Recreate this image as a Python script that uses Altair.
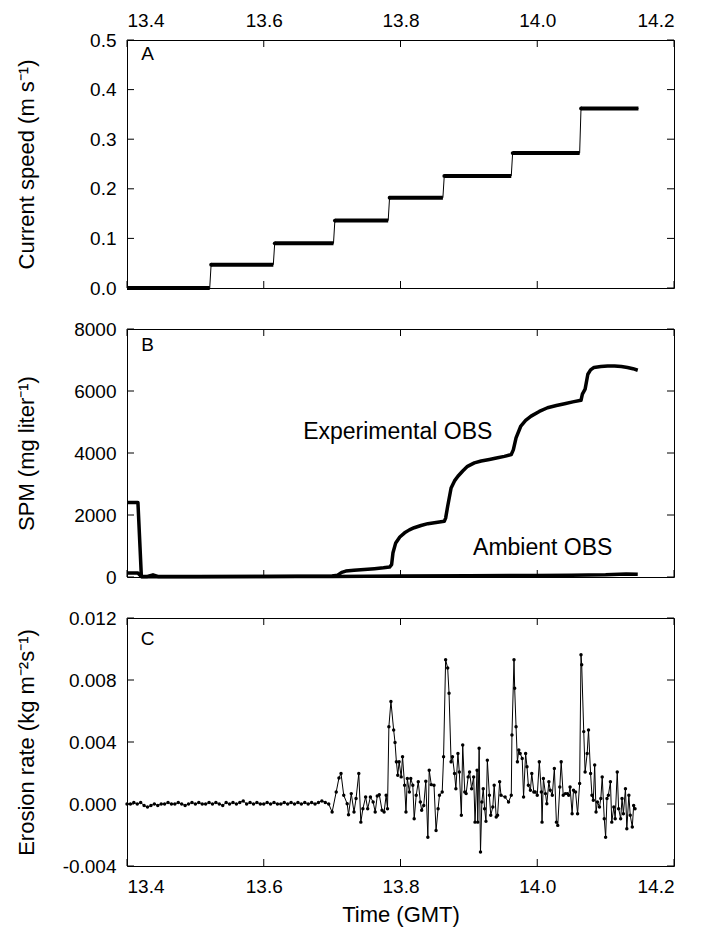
import altair as alt
import pandas as pd

FONT = "Liberation Sans"
W, H = 547, 248
TL = 7  # inward tick length

# ---------------- shared axis ticks ----------------
x_ticks = [13.4, 13.6, 13.8, 14.0, 14.2]
a_ticks = [0.0, 0.1, 0.2, 0.3, 0.4, 0.5]
b_ticks = [0, 2000, 4000, 6000, 8000]
c_ticks = [-0.004, 0.0, 0.004, 0.008, 0.012]

# ---------------- Panel A: current speed (steps) ----------------
speed_levels = [0.0, 0.047, 0.090, 0.136, 0.182, 0.226, 0.272, 0.362]
step_start = [13.400, 13.523, 13.616, 13.704, 13.784, 13.864, 13.964, 14.064]
step_end = [13.521, 13.614, 13.702, 13.782, 13.862, 13.962, 14.062, 14.148]

# ---------------- Panel B: SPM ----------------
exp_t = [13.400, 13.416, 13.419, 13.421, 13.430, 13.438, 13.445, 13.500, 13.550,
         13.600, 13.650, 13.700, 13.708, 13.714, 13.720, 13.732, 13.747, 13.762,
         13.775, 13.784, 13.787, 13.789, 13.793, 13.799, 13.806, 13.813, 13.820,
         13.830, 13.840, 13.852, 13.864, 13.866, 13.869, 13.874, 13.879, 13.884,
         13.891, 13.898, 13.908, 13.918, 13.930, 13.942, 13.952, 13.962, 13.965,
         13.969, 13.976, 13.983, 13.991, 14.003, 14.015, 14.028, 14.040, 14.052,
         14.064, 14.066, 14.070, 14.074, 14.078, 14.083, 14.093, 14.103, 14.113,
         14.123, 14.132, 14.140, 14.147]
exp_v = [2400, 2400, 980, 20, 20, 70, 20, 15, 20,
         20, 25, 30, 60, 150, 190, 215, 245, 270,
         295, 320, 400, 780, 1100, 1290, 1425, 1520, 1590,
         1660, 1720, 1760, 1795, 1900, 2280, 2870, 3100, 3250,
         3420, 3570, 3680, 3740, 3790, 3845, 3890, 3950, 4100,
         4490, 4870, 5050, 5190, 5340, 5460, 5530, 5590, 5650,
         5700, 5900, 6060, 6540, 6680, 6760, 6790, 6810, 6810,
         6790, 6760, 6720, 6670]
amb_t = [13.400, 13.416, 13.421, 13.500, 13.600, 13.700, 13.800, 13.900,
         14.000, 14.050, 14.100, 14.130, 14.147]
amb_v = [130, 130, 10, 10, 15, 20, 30, 40, 50, 60, 75, 100, 90]

# ---------------- Panel C: erosion rate ----------------
ero_t = [13.400, 13.405, 13.410, 13.415, 13.420, 13.425, 13.430, 13.435, 13.440, 13.445,
         13.450, 13.455, 13.460, 13.465, 13.470, 13.475, 13.480, 13.485, 13.490, 13.495,
         13.500, 13.505, 13.510, 13.515, 13.520, 13.525, 13.530, 13.535, 13.540, 13.545,
         13.550, 13.555, 13.560, 13.565, 13.570, 13.575, 13.580, 13.585, 13.590, 13.595,
         13.600, 13.605, 13.610, 13.615, 13.620, 13.625, 13.630, 13.635, 13.640, 13.645,
         13.650, 13.655, 13.660, 13.665, 13.670, 13.675, 13.680, 13.685, 13.690, 13.695,
         13.700, 13.706, 13.710, 13.713, 13.717, 13.722, 13.724, 13.728, 13.732, 13.735,
         13.739, 13.742, 13.745, 13.749, 13.752, 13.756, 13.760, 13.763, 13.766, 13.769,
         13.773, 13.776, 13.779, 13.781, 13.783, 13.786, 13.790, 13.792, 13.794, 13.796,
         13.798, 13.801, 13.803, 13.806, 13.808, 13.810, 13.813, 13.815, 13.818, 13.820,
         13.823, 13.826, 13.829, 13.831, 13.834, 13.837, 13.840, 13.842, 13.845, 13.849,
         13.852, 13.855, 13.857, 13.861, 13.863, 13.866, 13.869, 13.871, 13.874, 13.876,
         13.879, 13.881, 13.884, 13.886, 13.889, 13.891, 13.894, 13.896, 13.899, 13.901,
         13.904, 13.907, 13.909, 13.912, 13.913, 13.915, 13.917, 13.919, 13.921, 13.923,
         13.925, 13.927, 13.930, 13.932, 13.935, 13.937, 13.940, 13.942, 13.945, 13.947,
         13.953, 13.958, 13.962, 13.963, 13.966, 13.967, 13.969, 13.971, 13.973, 13.975,
         13.978, 13.980, 13.983, 13.985, 13.987, 13.990, 13.992, 13.995, 13.997, 14.000,
         14.003, 14.006, 14.007, 14.009, 14.012, 14.014, 14.017, 14.019, 14.022, 14.025,
         14.028, 14.030, 14.033, 14.035, 14.038, 14.041, 14.044, 14.046, 14.048, 14.051,
         14.053, 14.056, 14.059, 14.062, 14.064, 14.065, 14.068, 14.070, 14.073, 14.075,
         14.078, 14.080, 14.082, 14.084, 14.086, 14.088, 14.091, 14.093, 14.095, 14.098,
         14.100, 14.102, 14.104, 14.107, 14.109, 14.112, 14.114, 14.117, 14.119, 14.122,
         14.124, 14.126, 14.129, 14.131, 14.134, 14.136, 14.139, 14.141, 14.143]
ero_v = [0.0000, 0.0000, 0.0001, 0.0000, 0.0001, -0.0001, -0.0002, -0.0001, 0.0000, -0.0001,
         0.0000, 0.0000, 0.0001, 0.0000, 0.0000, 0.0001, 0.0000, -0.0001, 0.0000, 0.0001,
         0.0000, 0.0001, 0.0000, 0.0000, 0.0001, 0.0000, 0.0001, 0.0000, -0.0001, 0.0001,
         0.0000, 0.0001, 0.0000, 0.0001, 0.0002, 0.0000, 0.0001, 0.0000, 0.0001, 0.0000,
         0.0000, 0.0001, 0.0000, 0.0001, 0.0000, 0.0000, 0.0001, 0.0000, 0.0001, 0.0000,
         0.0001, 0.0000, 0.0001, 0.0000, 0.0001, 0.0000, 0.0001, 0.0002, 0.0001, 0.0000,
         -0.00052, 0.00078, 0.00168, 0.00197, 0.00056, 0.00002, -0.00069, 0.00067, -0.00052, 0.00035,
         0.00197, -0.00117, -0.00030, 0.00045, -0.00030, 0.00045, 0.00013, -0.00052, 0.00052, 0.00060,
         -0.00041, -0.00052, 0.00056, -0.00030, 0.00499, 0.00661, 0.00477, 0.00397, 0.00272, 0.00186,
         0.00272, 0.00175, 0.00305, 0.00121, -0.00052, 0.00164, 0.00078, 0.00164, 0.00121, -0.00095,
         0.00056, 0.00143, 0.00013, -0.00041, -0.00009, 0.00147, -0.00214, 0.00218, 0.00125, 0.00121,
         -0.00171, -0.00030, 0.00056, 0.00078, 0.00305, 0.00931, 0.00877, 0.00715, 0.00272, 0.00305,
         0.00197, 0.00099, 0.00326, 0.00207, -0.00073, 0.00380, 0.00078, 0.00067, 0.00175, 0.00207,
         0.00099, 0.00175, -0.00117, 0.00218, -0.00117, 0.00359, -0.00310, 0.00013, 0.00099, -0.00030,
         -0.00112, 0.00283, 0.00056, -0.00073, -0.00019, 0.00121, -0.00084, -0.00073, 0.00143, 0.00056,
         0.00045, 0.00013, 0.00056, 0.00445, 0.00931, 0.00747, 0.00499, 0.00272, 0.00348, 0.00326,
         0.00294, 0.00045, 0.00326, 0.00240, 0.00121, 0.00089, 0.00197, 0.00078, 0.00078, 0.00056,
         0.00272, 0.00078, -0.00117, 0.00164, 0.00067, 0.00002, 0.00143, 0.00089, 0.00056, 0.00229,
         -0.00117, -0.00138, 0.00110, 0.00272, 0.00056, 0.00067, 0.00067, 0.00056, 0.00110, -0.00063,
         0.00089, 0.00078, -0.00063, 0.00132, 0.00963, 0.00899, 0.00467, 0.00207, 0.00326, 0.00477,
         0.00197, 0.00056, 0.00024, 0.00251, -0.00052, 0.00013, -0.00019, 0.00035, 0.00175, -0.00095,
         -0.00214, 0.00035, 0.00056, 0.00143, -0.00117, -0.00019, -0.00095, 0.00207, -0.00030, -0.00095,
         0.00035, -0.00063, 0.00099, -0.00160, 0.00056, -0.00073, -0.00149, -0.00009, -0.00030]

# annotations
panel_letters = ["A", "B", "C"]
letter_t = 13.43
letter_y = [0.472, 7480, 0.01064]
ann_labels = ["Experimental OBS", "Ambient OBS"]
ann_t = [13.796, 14.008]
ann_v = [4664, 939]

XS = alt.Scale(domain=[13.4, 14.2], nice=False, zero=False)


def yaxis(title, ticks, fmt):
    expr = ("datum.value < 0 ? '-' + format(-datum.value, '%s') : format(datum.value, '%s')"
            % (fmt, fmt))
    return alt.Axis(values=ticks, labelExpr=expr, ticks=False, domain=False, grid=False,
                    labelPadding=11, title=title, titleX=-101, titleY=H / 2,
                    titleAngle=270, titleBaseline="middle", titleAlign="center")


def xaxis(orient, title):
    if orient is None:
        return None
    if title is None:
        return alt.Axis(orient=orient, values=x_ticks, format=".1f", ticks=False, domain=False,
                        grid=False, labelPadding=10, title=None)
    return alt.Axis(orient=orient, values=x_ticks, format=".1f", ticks=False, domain=False,
                    grid=False, labelPadding=11, title=title, titlePadding=8)


def panel(ydomain, yticks, ytitle, yfmt, xorient, xtitle, letter_idx, layers_fn):
    ys = alt.Scale(domain=ydomain, nice=False, zero=False)
    xa = xaxis(xorient, xtitle)
    ya = yaxis(ytitle, yticks, yfmt)

    def X(field):
        return alt.X(field, scale=XS, axis=xa)

    def Y(field):
        return alt.Y(field, scale=ys, axis=ya)

    layers = layers_fn(X, Y)

    xs_df = pd.DataFrame({"t": x_ticks})
    ys_df = pd.DataFrame({"v": yticks})
    top = alt.Chart(xs_df).mark_rule(color="black", strokeWidth=1).encode(
        x=X("t:Q"), y=alt.value(0), y2=alt.value(TL))
    bot = alt.Chart(xs_df).mark_rule(color="black", strokeWidth=1).encode(
        x=X("t:Q"), y=alt.value(H - TL), y2=alt.value(H))
    left = alt.Chart(ys_df).mark_rule(color="black", strokeWidth=1).encode(
        y=Y("v:Q"), x=alt.value(0), x2=alt.value(TL))
    right = alt.Chart(ys_df).mark_rule(color="black", strokeWidth=1).encode(
        y=Y("v:Q"), x=alt.value(W - TL), x2=alt.value(W))
    ldf = pd.DataFrame({"t": [letter_t], "v": [letter_y[letter_idx]], "s": [panel_letters[letter_idx]]})
    let = alt.Chart(ldf).mark_text(font=FONT, fontSize=19, color="black",
                                   align="center", baseline="middle").encode(
        x=X("t:Q"), y=Y("v:Q"), text="s:N")
    return alt.layer(*layers, let, top, bot, left, right).properties(width=W, height=H)


# ---- Panel A ----
steps = pd.DataFrame({"t0": step_start, "t1": step_end, "v": speed_levels})
rows = []
for s, e, v in zip(step_start, step_end, speed_levels):
    rows.append({"t": s, "v": v})
    rows.append({"t": e, "v": v})
speed_line = pd.DataFrame(rows)
risers = pd.DataFrame({"t": step_start[1:], "v": speed_levels[1:]})


def a_layers(X, Y):
    thin = alt.Chart(speed_line).mark_line(color="black", strokeWidth=1).encode(
        x=X("t:Q"), y=Y("v:Q"))
    thick = alt.Chart(steps).mark_rule(color="black", strokeWidth=4).encode(
        x=X("t0:Q"), x2="t1:Q", y=Y("v:Q"))
    pts = alt.Chart(risers).mark_circle(color="black", size=14, opacity=1).encode(
        x=X("t:Q"), y=Y("v:Q"))
    return [thin, thick, pts]


panelA = panel([0, 0.5], a_ticks, "Current speed  (m s⁻¹)", ".1f", "top", None, 0, a_layers)

# ---- Panel B ----
spm = pd.concat([
    pd.DataFrame({"t": exp_t, "v": exp_v, "s": "Experimental"}),
    pd.DataFrame({"t": amb_t, "v": amb_v, "s": "Ambient"}),
])
ann = pd.DataFrame({"t": ann_t, "v": ann_v, "s": ann_labels})


def b_layers(X, Y):
    lines = alt.Chart(spm).mark_line(color="black", strokeWidth=3.5, strokeJoin="round").encode(
        x=X("t:Q"), y=Y("v:Q"), detail="s:N", order="t:Q")
    txt = alt.Chart(ann).mark_text(font=FONT, fontSize=23, color="black",
                                   align="center", baseline="middle").encode(
        x=X("t:Q"), y=Y("v:Q"), text="s:N")
    return [lines, txt]


panelB = panel([0, 8000], b_ticks, "SPM (mg liter⁻¹)", "d", None, None, 1, b_layers)

# ---- Panel C ----
ero = pd.DataFrame({"t": ero_t, "v": ero_v})


def c_layers(X, Y):
    line = alt.Chart(ero).mark_line(color="black", strokeWidth=1,
                                    point=alt.OverlayMarkDef(filled=True, size=12, color="black")).encode(
        x=X("t:Q"), y=Y("v:Q"))
    return [line]


panelC = panel([-0.004, 0.012], c_ticks, "Erosion rate  (kg m⁻²s⁻¹)", ".3f", "bottom", "Time (GMT)", 2,
               c_layers)

chart = alt.vconcat(panelA, panelB, panelC, spacing=20).properties(
    padding={"left": 14, "top": 10, "right": 5, "bottom": 5},
    background="white"
).configure_view(stroke="black", strokeWidth=1).configure_axis(
    labelFont=FONT, labelFontSize=19, labelColor="black",
    titleFont=FONT, titleFontSize=22, titleFontWeight="normal", titleColor="black"
)

chart.save("out.html", embed_options={"renderer": "svg", "actions": False})
